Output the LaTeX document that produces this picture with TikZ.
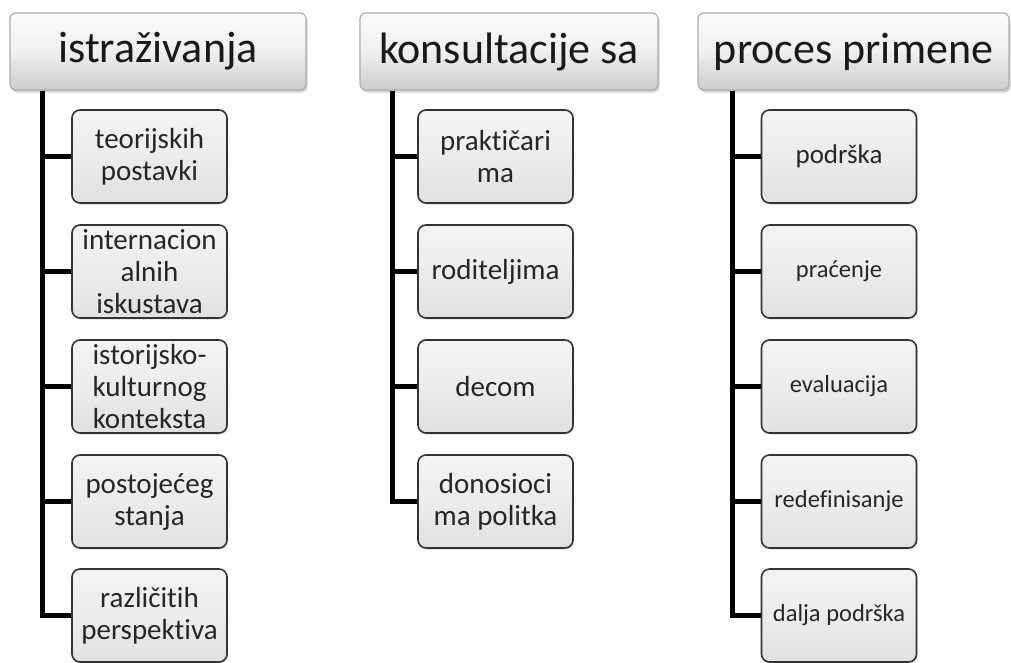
\documentclass[tikz,border=0pt]{standalone}
\usepackage{fontspec}
\setmainfont{Carlito}[Ligatures=NoCommon]
\usetikzlibrary{shadows}
\begin{document}
\begin{tikzpicture}[x=1pt,y=-1pt,
  hdr/.style={rounded corners=6pt, draw=gray!65, line width=1.2pt,
    top color=gray!3, bottom color=gray!40, middle color=gray!12,
    minimum height=77pt, inner sep=0pt, text=black!90,
    font=\fontsize{44}{50}\selectfont,
    drop shadow={opacity=0.35, shadow xshift=1.5pt, shadow yshift=-2.5pt}},
  kid/.style={rounded corners=8pt, draw=black!80, line width=1.6pt,
    top color=gray!9, bottom color=gray!24, middle color=gray!15,
    minimum width=155pt, minimum height=93pt, inner sep=0pt, align=center,
    text=black!85, font=\fontsize{29}{32}\selectfont,
    drop shadow={opacity=0.25, shadow xshift=1pt, shadow yshift=-1.5pt}},
  small/.style={font=\fontsize{24.5}{28}\selectfont},
  conn/.style={line width=5pt, black}
]
\useasboundingbox (0,0) rectangle (1011,662);

% headers
\node[hdr, minimum width=296pt] (h1) at (158,51.5) {\raisebox{-3pt}{istraživanja}};
\node[hdr, minimum width=298pt] (h2) at (509,51.5) {\raisebox{-3pt}{konsultacije sa}};
\node[hdr, minimum width=311pt] (h3) at (853.5,51.5) {\raisebox{-3pt}{proces primene}};

% column 1
\node[kid] (a1) at (149.5,156.5) {teorijskih\\postavki};
\node[kid] (a2) at (149.5,271.5) {internacion\\alnih\\iskustava};
\node[kid] (a3) at (149.5,386.5) {istorijsko-\\kulturnog\\konteksta};
\node[kid] (a4) at (149.5,501.5) {postojećeg\\stanja};
\node[kid] (a5) at (149.5,615.5) {različitih\\perspektiva};

% column 2
\node[kid] (b1) at (495.5,156.5) {praktičari\\ma};
\node[kid] (b2) at (495.5,271.5) {roditeljima};
\node[kid] (b3) at (495.5,386.5) {decom};
\node[kid] (b4) at (495.5,501.5) {donosioci\\ma politka};

% column 3
\node[kid, font=\fontsize{27}{30}\selectfont] (c1) at (839,156.5) {podrška};
\node[kid, small] (c2) at (839,271.5) {praćenje};
\node[kid, small] (c3) at (839,386.5) {evaluacija};
\node[kid, small] (c4) at (839,501.5) {redefinisanje};
\node[kid, small] (c5) at (839,615.5) {dalja podrška};

% connectors
\foreach \k in {a1,a2,a3,a4,a5}
  \draw[conn] ([xshift=33pt]h1.south west) |- (\k.west);
\foreach \k in {b1,b2,b3,b4}
  \draw[conn] ([xshift=33pt]h2.south west) |- (\k.west);
\foreach \k in {c1,c2,c3,c4,c5}
  \draw[conn] ([xshift=35pt]h3.south west) |- (\k.west);
\end{tikzpicture}
\end{document}
